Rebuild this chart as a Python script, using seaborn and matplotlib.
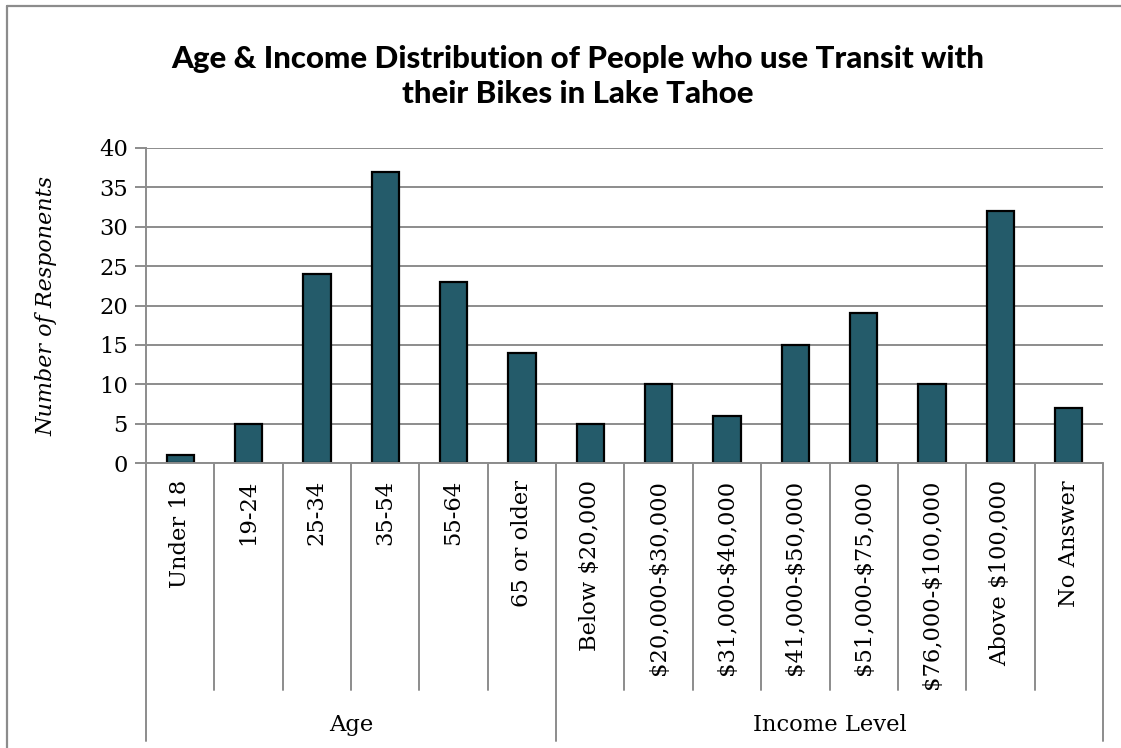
import matplotlib
matplotlib.use("Agg")
import matplotlib.pyplot as plt
import matplotlib.transforms as mtransforms
import seaborn as sns
import pandas as pd

# ---- data ----
age_labels = ["Under 18", "19-24", "25-34", "35-54", "55-64", "65 or older"]
age_values = [1, 5, 24, 37, 23, 14]
income_labels = ["Below $20,000", "$20,000-$30,000", "$31,000-$40,000",
                 "$41,000-$50,000", "$51,000-$75,000", "$76,000-$100,000",
                 "Above $100,000", "No Answer"]
income_values = [5, 10, 6, 15, 19, 10, 32, 7]
group_names = ["Age", "Income Level"]
y_ticks = [0, 5, 10, 15, 20, 25, 30, 35, 40]

title = "Age & Income Distribution of People who use Transit with\ntheir Bikes in Lake Tahoe"
y_label = "Number of Responents"

categories = age_labels + income_labels
values = age_values + income_values
groups = [group_names[0]] * len(age_labels) + [group_names[1]] * len(income_labels)
df = pd.DataFrame({"category": categories, "value": values, "group": groups})

sns.set_theme(style="white")
plt.rcParams["font.family"] = ["DejaVu Serif"]
plt.rcParams["text.color"] = "black"
plt.rcParams["axes.labelcolor"] = "black"

W, H = 1121, 748
fig = plt.figure(figsize=(W / 100, H / 100), dpi=100)
ax = fig.add_axes([146 / W, 1 - 463 / H, (1103 - 146) / W, (463 - 148) / H])

bar_color = "#245B6A"
grid_color = "#8C8C8C"
fs = 16.3

sns.barplot(data=df, x="category", y="value", color=bar_color, width=0.4,
            edgecolor="black", linewidth=1.6, saturation=1, ax=ax, zorder=3)

n = len(categories)
ax.set_xlim(-0.5, n - 0.5)
ax.set_ylim(0, 40)
ax.set_yticks(y_ticks)
ax.set_yticklabels([str(t) for t in y_ticks], fontsize=fs, color="black")
ax.yaxis.grid(True, color=grid_color, linewidth=1.4, zorder=0)
ax.set_axisbelow(True)
ax.tick_params(axis="y", which="major", direction="out", length=8, width=1.4,
               color=grid_color, pad=5, left=True)
ax.set_xticks([])
ax.set_xlabel("")
ax.set_ylabel(y_label, fontsize=16, fontstyle="italic", labelpad=30,
              color="black")

for s in ["top", "right", "bottom"]:
    ax.spines[s].set_visible(False)
ax.spines["left"].set_color(grid_color)
ax.spines["left"].set_linewidth(1.4)

# multi-level category axis below
trans = mtransforms.blended_transform_factory(ax.transData, fig.transFigure)
y_axis = 1 - 463 / H
y_cat_end = 1 - 690 / H
y_grp_end = 1 - 741 / H
y_lab_top = 1 - 480 / H
y_grp_lab = 1 - 725 / H

ax.plot([-0.5, n - 0.5], [y_axis, y_axis], transform=trans, color=grid_color,
        lw=1.4, clip_on=False, zorder=4)

boundaries = [i - 0.5 for i in range(n + 1)]
group_edges = [-0.5, len(age_labels) - 0.5, n - 0.5]
for b in boundaries:
    end = y_grp_end if b in group_edges else y_cat_end
    ax.plot([b, b], [y_axis, end], transform=trans, color=grid_color, lw=1.4,
            clip_on=False)

for i, lab in enumerate(categories):
    ax.text(i, y_lab_top, lab, transform=trans, rotation=90, ha="center",
            va="top", fontsize=fs, color="black", parse_math=False)

starts = [0, len(age_labels)]
sizes = [len(age_labels), len(income_labels)]
for name, st, sz in zip(group_names, starts, sizes):
    ax.text(st + (sz - 1) / 2, y_grp_lab, name, transform=trans, ha="center",
            va="center", fontsize=fs, color="black", parse_math=False)

fig.text(0.515, 1 - 45 / H, title, ha="center", va="top", fontsize=22.5,
         fontweight="black", family=["Lato", "DejaVu Sans"], linespacing=1.3,
         color="black", parse_math=False)

# outer chart border (top and left visible)
fig.add_artist(plt.Line2D([7 / W, 1.0], [1 - 6 / H, 1 - 6 / H],
                          transform=fig.transFigure, color=grid_color, lw=1.6))
fig.add_artist(plt.Line2D([7 / W, 7 / W], [1 - 6 / H, 0.0],
                          transform=fig.transFigure, color=grid_color, lw=1.6))

fig.savefig("out.png", dpi=100)
